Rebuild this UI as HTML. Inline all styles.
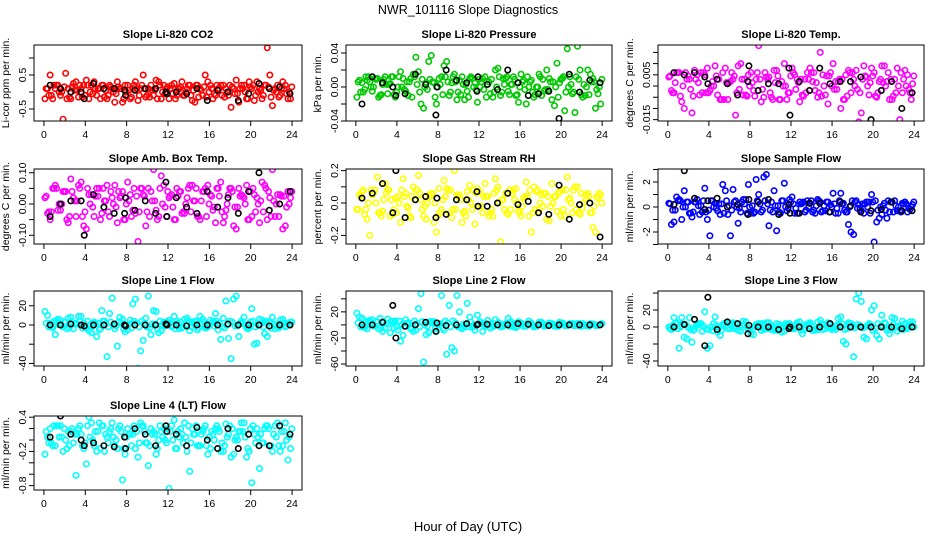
<!DOCTYPE html>
<html><head><meta charset="utf-8"><title>NWR_101116 Slope Diagnostics</title>
<style>
html,body{margin:0;padding:0;background:#fff;}
svg{display:block;font-family:"Liberation Sans",Arial,sans-serif;}
</style></head>
<body>
<svg id="chart" width="936" height="540" viewBox="0 0 936 540" xmlns="http://www.w3.org/2000/svg">
<rect width="936" height="540" fill="#fff"/>
<text x="468" y="14" text-anchor="middle" font-size="12.5">NWR_101116  Slope Diagnostics</text>
<text x="468" y="531" text-anchor="middle" font-size="13">Hour of Day (UTC)</text>
</svg>
<script>
// Hours of day for the colored point series and the black overlay series
const hoursA=[0.1,0.6,1.1,1.6,2.1,2.6,3.1,3.6,4.1,4.6,5.1,5.6,6.1,6.6,7.1,7.6,8.1,8.6,9.1,9.6,10.1,10.6,11.1,11.6,12.1,12.6,13.1,13.6,14.1,14.6,15.1,15.6,16.1,16.6,17.1,17.6,18.1,18.6,19.1,19.6,20.1,20.6,21.1,21.6,22.1,22.6,23.1,23.6];
const hoursB=[0.35,0.85,1.35,1.85,2.35,2.85,3.35,3.85,4.35,4.85,5.35,5.85,6.35,6.85,7.35,7.85,8.35,8.85,9.35,9.85,10.35,10.85,11.35,11.85,12.35,12.85,13.35,13.85,14.35,14.85,15.35,15.85,16.35,16.85,17.35,17.85,18.35,18.85,19.35,19.85,20.35,20.85,21.35,21.85,22.35,22.85,23.35,23.85];
const hoursC=[0.22,0.72,1.22,1.72,2.22,2.72,3.22,3.72,4.22,4.72,5.22,5.72,6.22,6.72,7.22,7.72,8.22,8.72,9.22,9.72,10.22,10.72,11.22,11.72,12.22,12.72,13.22,13.72,14.22,14.72,15.22,15.72,16.22,16.72,17.22,17.72,18.22,18.72,19.22,19.72,20.22,20.72,21.22,21.72,22.22,22.72,23.22,23.72];
const hoursD=[0.47,0.97,1.47,1.97,2.47,2.97,3.47,3.97,4.47,4.97,5.47,5.97,6.47,6.97,7.47,7.97,8.47,8.97,9.47,9.97,10.47,10.97,11.47,11.97,12.47,12.97,13.47,13.97,14.47,14.97,15.47,15.97,16.47,16.97,17.47,17.97,18.47,18.97,19.47,19.97,20.47,20.97,21.47,21.97,22.47,22.97,23.47,23.97];
const hoursK=[0.6,1.6,2.6,3.6,3.9,4.8,5.8,6.8,7.8,7.9,8.8,9.8,10.8,11.8,11.9,12.8,13.8,14.8,15.8,16.8,17.8,18.8,19.8,20.8,21.8,22.8,23.8];
const xTicks=[0,4,8,12,16,20,24];

const co2A=[-0.2,0.5,0.1,-0.1,0.55,-0.2,0.3,0.1,0.35,0.2,-0.1,0.2,-0.2,0.1,0.3,-0.3,0.2,0.1,-0.25,0.5,0.1,-0.1,0.3,0.2,-0.2,0.25,0.1,-0.1,0.2,-0.3,0.1,0.5,0.2,-0.1,0.2,0.1,-0.45,0.35,0.2,-0.2,0.1,0.3,-0.2,1.3,-0.4,0.2,0.3,-0.2];
const co2B=[0.1,-0.2,0.2,-0.8,0.1,0.25,-0.15,0.2,-0.2,0.3,0.1,-0.15,0.2,-0.3,0.1,0.2,-0.2,0.3,0.1,-0.15,0.2,0.35,-0.2,0.1,0.2,-0.1,0.3,0.1,-0.25,0.2,-0.1,0.3,-0.2,0.1,0.2,-0.1,0.1,-0.3,0.2,0.3,-0.25,0.1,0.2,0.5,0.1,-0.1,0.2,-0.2];
const co2C=[0.1,-0.1,0.2,0.0,-0.2,0.15,0.05,-0.15,0.2,-0.05,0.1,0.2,-0.1,0.0,0.15,-0.2,0.05,0.2,-0.1,0.1,-0.15,0.05,0.2,-0.05,0.1,-0.2,0.15,0.0,-0.1,0.2,0.05,-0.15,0.1,0.2,-0.1,0.0,0.15,-0.05,0.1,-0.2,0.2,0.0,-0.1,0.15,0.05,-0.15,0.1,0.0];
const co2D=[-0.1,0.2,0.0,0.15,-0.15,0.05,0.2,-0.1,0.0,0.1,-0.2,0.05,0.15,-0.05,0.1,0.0,-0.15,0.1,0.2,-0.1,0.05,-0.2,0.0,0.15,-0.05,0.1,-0.1,0.2,0.05,-0.15,0.15,0.0,-0.05,0.1,-0.15,0.2,-0.05,0.1,0.0,0.15,-0.1,0.05,0.2,-0.15,0.0,0.1,-0.05,0.15];
const co2K=[0.2,0.1,0.0,0.0,-0.2,0.25,0.1,0.1,0.05,-0.1,0.05,0.1,0.1,0.0,-0.05,0.0,-0.05,0.1,-0.25,0.05,0.0,-0.25,-0.05,0.25,0.1,0.15,-0.05];

const presA=[-0.012,0.005,0.008,-0.005,0.01,0.003,-0.008,0.012,0.0,0.01,-0.01,0.015,0.018,-0.025,0.03,0.005,0.01,0.025,-0.01,0.015,0.008,-0.015,0.01,0.005,0.0,0.012,-0.008,0.02,-0.01,0.01,0.003,-0.01,0.015,-0.02,0.008,0.0,-0.01,0.02,-0.015,0.028,0.01,0.045,-0.008,0.048,-0.012,0.02,0.01,-0.008];
const presB=[0.008,-0.003,0.006,0.01,-0.01,0.012,0.004,-0.012,0.018,-0.005,0.01,0.035,-0.02,0.005,0.037,-0.02,0.012,0.03,0.005,-0.015,0.012,-0.005,0.01,-0.018,0.01,0.003,-0.012,0.022,0.01,-0.005,0.012,-0.018,0.008,0.0,-0.012,0.015,-0.005,0.01,-0.022,0.005,-0.028,0.012,-0.03,0.02,-0.01,0.015,-0.025,-0.02];
const presC=[0.006,-0.006,0.012,0.0,-0.012,0.009,0.003,-0.009,0.012,-0.003,0.006,0.012,-0.006,0.0,0.009,-0.012,0.003,0.012,-0.006,0.006,-0.009,0.003,0.012,-0.003,0.006,-0.012,0.009,0.0,-0.006,0.012,0.003,-0.009,0.006,0.012,-0.006,0.0,0.009,-0.003,0.006,-0.012,0.012,0.0,-0.006,0.009,0.003,-0.009,0.006,0.0];
const presD=[-0.006,0.012,0.0,0.009,-0.009,0.003,0.012,-0.006,0.0,0.006,-0.012,0.003,0.009,-0.003,0.006,0.0,-0.009,0.006,0.012,-0.006,0.003,-0.012,0.0,0.009,-0.003,0.006,-0.006,0.012,0.003,-0.009,0.009,0.0,-0.003,0.006,-0.009,0.012,-0.003,0.006,0.0,0.009,-0.006,0.003,0.012,-0.009,0.0,0.006,-0.003,0.009];
const presK=[-0.02,0.012,0.005,0.0,-0.01,-0.008,0.015,0.003,-0.033,0.0,0.02,0.008,0.005,-0.005,0.012,0.003,-0.003,0.02,0.005,-0.01,-0.008,-0.005,-0.037,0.015,-0.006,0.008,0.005];

const tempA=[0.004,-0.003,0.006,-0.01,0.003,0.007,-0.004,0.005,-0.002,0.009,-0.006,0.008,0.002,-0.013,0.01,-0.004,0.006,0.003,-0.007,0.004,-0.005,0.007,0.002,-0.006,0.008,0.003,-0.004,0.006,0.002,-0.005,0.005,-0.008,0.01,0.002,-0.006,0.007,0.003,-0.016,0.009,-0.004,0.006,0.002,0.009,-0.006,0.003,-0.015,0.007,-0.003];
const tempB=[-0.002,0.006,-0.007,0.003,-0.012,0.005,-0.003,0.008,0.002,-0.004,0.006,-0.006,0.003,0.009,-0.004,0.005,-0.002,0.018,-0.005,0.004,0.007,-0.006,0.01,-0.003,0.005,-0.007,0.003,0.008,-0.002,0.015,-0.004,0.006,0.002,-0.01,0.005,-0.003,0.007,-0.012,0.004,0.008,-0.005,0.009,0.002,-0.006,0.008,-0.003,0.005,0.001];
const tempC=[0.0045,0.0015,-0.0045,0.006,-0.0015,0.003,0.006,-0.003,0,0.0045,-0.006,0.0015,0.006,-0.003,0.003,-0.0045,0.0015,0.006,-0.0015,0.003,-0.006,0.0045,0,-0.003,0.006,0.0015,-0.0045,0.003,0.006,-0.003,0,0.0045,-0.0015,0.003,-0.006,0.006,0,-0.003,0.0045,0.0015,-0.0045,0.003,0,0.003,-0.003,0.006,0,-0.006];
const tempD=[-0.003,0.006,0,0.0045,-0.0045,0.0015,0.006,-0.003,0,0.003,-0.006,0.0015,0.0045,-0.0015,0.003,0,-0.0045,0.003,0.006,-0.003,0.0015,-0.006,0,0.0045,-0.0015,0.003,-0.003,0.006,0.0015,-0.0045,0.0045,0,-0.0015,0.003,-0.0045,0.006,-0.0015,0.003,0,0.0045,-0.003,0.0015,0.006,-0.0045,0,0.003,-0.0015,0.0045];
const tempK=[0.006,0.005,0.006,0.004,0.001,0.003,0.001,-0.004,0.002,0.009,-0.002,0.001,0.001,0.008,-0.013,0.002,-0.002,0.008,0.001,0.002,0.002,0.004,-0.015,-0.002,0.002,-0.01,-0.003];

const ambA=[0.02,-0.05,0.06,-0.02,0.04,0.08,-0.04,0.07,-0.08,0.03,0.05,-0.03,0.06,0.02,-0.06,0.04,0.07,-0.02,-0.12,0.03,0.05,0.11,-0.04,0.06,0.02,-0.05,0.04,-0.03,0.06,0.01,-0.05,0.05,0.03,-0.06,0.07,-0.02,0.05,-0.08,0.03,0.06,-0.04,0.02,0.07,-0.05,0.11,0.03,-0.08,0.04];
const ambB=[-0.03,0.05,-0.02,0.04,-0.06,0.02,0.06,-0.07,0.03,-0.04,0.05,0.01,-0.04,0.06,0.02,-0.05,0.03,-0.03,0.05,-0.07,0.04,-0.02,0.09,-0.04,0.03,0.05,-0.03,0.02,0.06,-0.04,0.04,0.06,-0.02,0.05,-0.06,0.03,-0.07,0.05,0.02,-0.05,0.03,-0.06,0.06,0.02,-0.04,0.03,-0.07,0.02];
const ambC=[0.025,-0.025,0.05,0,-0.05,0.04,0.01,-0.04,0.05,-0.01,0.025,0.05,-0.025,0,0.04,-0.05,0.01,0.05,-0.025,0.025,-0.04,0.01,0.05,-0.01,0.025,-0.05,0.04,0,-0.025,0.05,0.01,-0.04,0.025,0.05,-0.025,0,0.04,-0.01,0.025,-0.05,0.05,0,-0.025,0.04,0.01,-0.04,0.025,0];
const ambD=[-0.025,0.05,0,0.04,-0.04,0.01,0.05,-0.025,0,0.025,-0.05,0.01,0.04,-0.01,0.025,0,-0.04,0.025,0.05,-0.025,0.01,-0.05,0,0.04,-0.01,0.025,-0.025,0.05,0.01,-0.04,0.04,0,-0.01,0.025,-0.04,0.05,-0.01,0.025,0,0.04,-0.025,0.01,0.05,-0.04,0,0.025,-0.01,0.04];
const ambK=[-0.04,0.0,0.01,0.01,-0.1,0.03,-0.01,-0.03,-0.03,0.02,-0.02,0.01,-0.03,0.07,-0.04,0.02,-0.01,-0.03,0.04,-0.01,0.02,-0.03,0.04,0.1,-0.02,0.0,0.04];

const rhA=[-0.04,0.07,-0.1,0.05,0.16,-0.05,0.08,-0.07,0.04,0.15,-0.03,0.1,0.17,-0.08,0.05,-0.12,0.09,0.14,-0.06,0.2,0.05,-0.05,0.11,-0.13,0.07,0.12,-0.06,0.15,-0.24,0.06,-0.04,0.09,-0.08,0.13,-0.18,0.07,0.05,-0.1,0.12,-0.05,0.08,0.16,-0.06,0.1,-0.03,0.06,-0.15,0.03];
const rhB=[0.05,-0.07,-0.2,0.08,-0.06,0.12,-0.08,0.03,-0.12,0.06,-0.09,0.08,0.02,-0.1,0.06,-0.18,-0.04,0.09,-0.09,0.05,-0.12,0.07,-0.04,0.09,-0.06,0.04,-0.08,0.1,0.02,-0.07,0.08,-0.05,0.03,-0.08,0.1,-0.04,0.06,-0.11,0.04,0.07,-0.08,0.03,0.1,-0.07,0.05,-0.06,-0.18,0.05];
const rhC=[-0.04,0.08,0,0.06,-0.06,0.02,0.08,-0.04,0,0.04,-0.08,0.02,0.06,-0.02,0.04,0,-0.06,0.04,0.08,-0.04,0.02,-0.08,0,0.06,-0.02,0.04,-0.04,0.08,0.02,-0.06,0.06,0,-0.02,0.04,-0.06,0.08,-0.02,0.04,0,0.06,-0.04,0.02,0.08,-0.06,0,0.04,-0.02,0.06];
const rhD=[0.04,-0.04,0.08,0,-0.08,0.06,0.02,-0.06,0.08,-0.02,0.04,0.08,-0.04,0,0.06,-0.08,0.02,0.08,-0.04,0.04,-0.06,0.02,0.08,-0.02,0.04,-0.08,0.06,0,-0.04,0.08,0.02,-0.06,0.04,0.08,-0.04,0,0.06,-0.02,0.04,-0.08,0.08,0,-0.04,0.06,0.02,-0.06,0.04,0];
const rhK=[0.03,0.06,0.12,-0.06,0.2,-0.09,0.02,0.04,-0.09,0.03,-0.07,0.02,0.02,0.07,-0.02,-0.02,0.0,0.06,-0.01,0.01,-0.06,-0.07,0.11,-0.1,-0.01,0.0,-0.21];

const sfA=[0.3,-1.2,0.6,1.3,-0.5,0.4,-0.6,1.5,-2.3,0.3,-0.6,1.3,-2.3,0.5,-0.4,0.6,-0.5,2.2,-0.4,2.6,0.4,-1.9,0.5,-0.3,0.8,-0.5,0.3,0.5,-0.4,0.6,-0.3,0.4,1.1,-0.5,0.3,-1.4,-2.2,0.2,-0.5,0.4,-2.8,-0.9,0.3,-0.4,0.5,-0.3,0.4,-0.2];
const sfB=[-1.4,0.8,-1.0,0.4,-0.8,0.6,-0.4,-1.0,0.5,-0.3,1.8,-0.6,1.4,-1.3,0.6,1.8,-0.5,1.0,2.4,-1.5,1.3,-0.4,1.9,0.6,-0.5,0.4,-0.4,0.3,-0.5,0.4,-0.3,0.2,-0.5,1.1,-0.4,-2.0,0.5,-0.3,0.4,1.0,-1.2,-0.6,-0.9,0.4,-0.3,0.3,-0.4,0.2];
const sfC=[0.25,-0.25,0.5,0,-0.5,0.4,0.1,-0.4,0.5,-0.1,0.25,0.5,-0.25,0,0.4,-0.5,0.1,0.5,-0.25,0.25,-0.4,0.1,0.5,-0.1,0.25,-0.5,0.4,0,-0.25,0.5,0.1,-0.4,0.25,0.5,-0.25,0,0.4,-0.1,0.25,-0.5,0.5,0,-0.25,0.4,0.1,-0.4,0.25,0];
const sfD=[-0.25,0.5,0,0.4,-0.4,0.1,0.5,-0.25,0,0.25,-0.5,0.1,0.4,-0.1,0.25,0,-0.4,0.25,0.5,-0.25,0.1,-0.5,0,0.4,-0.1,0.25,-0.25,0.5,0.1,-0.4,0.4,0,-0.1,0.25,-0.4,0.5,-0.1,0.25,0,0.4,-0.25,0.1,0.5,-0.4,0,0.25,-0.1,0.4];
const sfK=[0.2,2.9,0.7,-0.2,0.5,0.7,0.0,0.2,-0.6,0.6,0.4,0.6,-0.6,0.2,-0.5,-0.5,0.3,0.3,-0.4,0.4,0.1,-0.4,-0.3,-0.2,0.4,-0.3,-0.3];

const l1A=[14,2,-10,5,3,8,2,9,-3,-8,-12,15,-33,28,-22,6,-5,22,-45,-16,30,15,-8,3,5,9,-4,6,-6,4,9,-3,5,12,-15,25,-35,30,4,-3,17,-19,5,-12,8,-2,6,2];
const l1B=[10,-3,6,-2,7,-4,9,2,-6,3,-5,4,12,-4,8,-7,5,27,-27,7,-10,14,-6,3,-2,4,-3,7,3,-5,6,-2,4,-5,7,-14,27,-12,8,-3,-20,6,-9,3,-4,5,-2,3];
const l1C=[2,-2,4,0,-4,3,1,-3,4,-1,2,4,-2,0,3,-4,1,4,-2,2,-3,1,4,-1,2,-4,3,0,-2,4,1,-3,2,4,-2,0,3,-1,2,-4,4,0,-2,3,1,-3,2,0];
const l1D=[-2,4,0,3,-3,1,4,-2,0,2,-4,1,3,-1,2,0,-3,2,4,-2,1,-4,0,3,-1,2,-2,4,1,-3,3,0,-1,2,-3,4,-1,2,0,3,-2,1,4,-3,0,2,-1,3];
const l1K=[0,0,1,0,-1,0,0,1,0,-1,0,0,0,1,0,0,-1,0,0,0,1,0,0,0,-1,0,0];

const l2A=[18,10,-6,8,5,-10,9,5,-8,-16,3,-10,25,-57,-12,5,2,-8,30,-40,20,-3,12,-8,5,3,-5,8,-3,2,5,-4,3,-2,3,-2,4,-1,2,-2,3,-1,2,-1,2,-1,1,-1];
const l2B=[12,-4,7,-2,10,-5,-12,6,-25,8,-6,-8,48,-15,5,-10,45,-45,-35,45,-6,33,-4,15,-10,7,-3,4,-2,10,-3,5,-2,6,-3,4,-2,3,-2,4,-1,2,-1,2,-1,2,-1,1];
const l2C=[3,-3,6,0,-6,5,2,-5,6,-2,3,6,-3,0,5,-6,2,6,-3,3,-4,1,4,-1,2,-2,2,0,-1,2,1,-2,1,2,-1,0,2,-1,1,-2,2,0,-1,2,1,-2,1,0];
const l2D=[-3,6,0,5,-5,2,6,-3,0,3,-6,2,5,-2,3,0,-5,3,6,-3,1,-3,0,2,-1,1,-1,2,1,-2,2,0,-1,1,-2,2,-1,1,0,2,-1,1,2,-2,0,1,-1,2];
const l2K=[0,0,4,30,-20,-2,0,4,-10,3,-1,0,2,0,1,1,0,0,2,1,0,-1,0,0,0,0,0];

const l3A=[0,11,-25,-12,11,-3,4,18,-22,12,-10,5,-2,4,-5,6,-8,3,-4,5,-3,4,-6,3,-2,5,-8,3,-4,6,-3,5,-2,10,-17,5,-35,40,-12,4,25,-14,5,-8,10,-2,4,6];
const l3B=[-3,5,11,-14,-18,4,-5,-25,-4,-6,3,-2,5,-4,7,-3,-9,4,-3,5,-4,3,-5,4,-2,6,-3,5,-4,8,-2,4,-3,12,-20,4,33,30,-14,20,-10,14,-4,11,-5,7,-2,6];
const l3C=[-2,4,0,3,-3,1,4,-2,0,2,-4,1,3,-1,2,0,-3,2,4,-2,1,-4,0,3,-1,2,-2,4,1,-3,3,0,-1,2,-3,4,-1,2,0,3,-2,1,4,-3,0,2,-1,3];
const l3D=[2,-2,4,0,-4,3,1,-3,4,-1,2,4,-2,0,3,-4,1,4,-2,2,-3,1,4,-1,2,-4,3,0,-2,4,1,-3,2,4,-2,0,3,-1,2,-4,4,0,-2,3,1,-3,2,0];
const l3K=[0,3,9,-22,35,-3,6,4,-8,2,0,0,-3,-2,0,0,-2,0,4,0,0,0,0,0,0,-2,0];

const l4A=[-0.25,0.2,-0.1,0.25,0.0,0.15,-0.62,0.1,-0.42,0.3,-0.2,0.25,0.05,0.3,-0.15,-0.7,0.2,0.1,-0.3,0.25,-0.45,0.15,0.0,0.2,-0.85,0.35,0.05,0.3,-0.55,0.1,-0.1,0.25,-0.15,0.2,-0.2,0.28,-0.3,0.05,0.3,-0.3,-0.75,0.2,-0.05,0.25,-0.2,0.3,-0.1,-0.35];
const l4B=[0.05,-0.1,0.25,-0.2,0.15,-0.05,0.2,-0.15,0.4,-0.1,0.3,-0.2,0.15,-0.1,0.25,-0.25,0.1,-0.15,0.3,-0.05,0.2,-0.25,0.15,-0.05,0.25,-0.15,0.1,-0.2,0.2,-0.1,0.15,-0.25,0.1,0.2,-0.2,0.1,-0.25,0.15,0.3,-0.2,0.1,-0.5,0.2,-0.1,0.25,-0.2,0.3,-0.15];
const l4C=[0.15,-0.05,0.25,0.05,-0.15,0.2,0.1,-0.1,0.25,0.0,0.15,0.25,-0.05,0.05,0.2,-0.15,0.1,0.25,-0.05,0.15,-0.1,0.1,0.25,0.0,0.15,-0.15,0.2,0.05,-0.05,0.25,0.1,-0.1,0.15,0.25,-0.05,0.05,0.2,0.0,0.15,-0.15,0.25,0.05,-0.05,0.2,0.1,-0.1,0.15,0.05];
const l4D=[-0.05,0.25,0.05,0.2,-0.1,0.1,0.25,-0.05,0.05,0.15,-0.15,0.1,0.2,0.0,0.15,0.05,-0.1,0.15,0.25,-0.05,0.1,-0.15,0.05,0.2,0.0,0.15,-0.05,0.25,0.1,-0.1,0.2,0.05,0.0,0.15,-0.1,0.25,0.0,0.15,0.05,0.2,-0.05,0.1,0.25,-0.1,0.05,0.15,0.0,0.2];
const l4K=[0.05,0.42,0.1,0.0,-0.1,-0.05,-0.1,-0.12,0.05,-0.15,0.2,0.1,-0.1,0.25,0.15,0.1,-0.1,0.22,0.0,-0.15,0.2,-0.15,0.1,-0.1,-0.1,0.25,0.1];

// y tick values and printed labels per panel
const co2Ticks=[-0.5,0,0.5,1.0], co2Labels=["-0.5",null,"0.5",null];
const presTicks=[-0.04,-0.02,0,0.02,0.04], presLabels=["-0.04",null,"0.00",null,"0.04"];
const tempTicks=[-0.015,-0.01,-0.005,0,0.005,0.01,0.015], tempLabels=["-0.015",null,null,null,"0.005",null,null];
const ambTicks=[-0.1,-0.05,0,0.05,0.1], ambLabels=["-0.10",null,"0.00",null,"0.10"];
const rhTicks=[-0.2,-0.1,0,0.1,0.2], rhLabels=["-0.2",null,"0.0",null,"0.2"];
const sfTicks=[-3,-2,-1,0,1,2,3], sfLabels=[null,"-2",null,"0",null,"2",null];
const l1Ticks=[-40,-20,0,20], l1Labels=["-40",null,"0","20"];
const l2Ticks=[-60,-40,-20,0,20,40], l2Labels=["-60",null,"-20",null,"20",null];
const l3Ticks=[-40,-20,0,20,40], l3Labels=["-40",null,"0","20",null];
const l4Ticks=[-0.8,-0.6,-0.4,-0.2,0,0.2,0.4], l4Labels=["-0.8",null,null,"-0.2",null,null,"0.4"];

const NS="http://www.w3.org/2000/svg";
const svg=document.getElementById('chart');
const cols=[[34,302],[346,612],[658,924]];
const rows=[[45,121],[169,244],[291,366],[416,490]];
const XMIN=-0.96, XMAX=24.96;

const panels=[
 {key:'co2',title:'Slope Li-820 CO2',ylab:'Li-cor ppm per min.',color:'#ff0000',c:0,r:0,ylim:[-0.853,1.382],S:[co2A,co2B,co2C,co2D],K:co2K,ticks:co2Ticks,labels:co2Labels},
 {key:'pressure',title:'Slope Li-820 Pressure',ylab:'kPa per min.',color:'#00c800',c:1,r:0,ylim:[-0.04,0.0494],S:[presA,presB,presC,presD],K:presK,ticks:presTicks,labels:presLabels},
 {key:'temp',title:'Slope Li-820 Temp.',ylab:'degrees C per min.',color:'#ff00ff',c:2,r:0,ylim:[-0.0156,0.0183],S:[tempA,tempB,tempC,tempD],K:tempK,ticks:tempTicks,labels:tempLabels},
 {key:'amb-box',title:'Slope Amb. Box Temp.',ylab:'degrees C per min.',color:'#ff00ff',c:0,r:1,ylim:[-0.128,0.112],S:[ambA,ambB,ambC,ambD],K:ambK,ticks:ambTicks,labels:ambLabels},
 {key:'rh',title:'Slope Gas Stream RH',ylab:'percent per min.',color:'#ffff00',c:1,r:1,ylim:[-0.253,0.21],S:[rhA,rhB,rhC,rhD],K:rhK,ticks:rhTicks,labels:rhLabels},
 {key:'sample-flow',title:'Slope Sample Flow',ylab:'ml/min per min.',color:'#0000ff',c:2,r:1,ylim:[-2.96,3.04],S:[sfA,sfB,sfC,sfD],K:sfK,ticks:sfTicks,labels:sfLabels},
 {key:'line1',title:'Slope Line 1 Flow',ylab:'ml/min per min.',color:'#00ffff',c:0,r:2,ylim:[-42.7,35.4],S:[l1A,l1B,l1C,l1D],K:l1K,ticks:l1Ticks,labels:l1Labels},
 {key:'line2',title:'Slope Line 2 Flow',ylab:'ml/min per min.',color:'#00ffff',c:1,r:2,ylim:[-63,52],S:[l2A,l2B,l2C,l2D],K:l2K,ticks:l2Ticks,labels:l2Labels},
 {key:'line3',title:'Slope Line 3 Flow',ylab:'ml/min per min.',color:'#00ffff',c:2,r:2,ylim:[-45.9,42.4],S:[l3A,l3B,l3C,l3D],K:l3K,ticks:l3Ticks,labels:l3Labels},
 {key:'line4',title:'Slope Line 4 (LT) Flow',ylab:'ml/min per min.',color:'#00ffff',c:0,r:3,ylim:[-0.877,0.421],S:[l4A,l4B,l4C,l4D],K:l4K,ticks:l4Ticks,labels:l4Labels}
];
const seriesHours=[hoursA,hoursB,hoursC,hoursD];

function mk(tag,attrs,parent){const e=document.createElementNS(NS,tag);for(const k in attrs)e.setAttribute(k,attrs[k]);(parent||svg).appendChild(e);return e;}

panels.forEach((p,pi)=>{
  const [L,R]=cols[p.c],[T,B]=rows[p.r];
  const xs=v=>L+(v-XMIN)/(XMAX-XMIN)*(R-L);
  const ys=v=>B-(v-p.ylim[0])/(p.ylim[1]-p.ylim[0])*(B-T);
  const g=mk('g',{});
  
  
  const cp=mk('clipPath',{id:'clip'+pi},g);
  mk('rect',{x:L,y:T,width:R-L,height:B-T},cp);
  const t=mk('text',{x:(L+R)/2,y:T-7,'text-anchor':'middle','font-size':'11','font-weight':'bold'},g);
  t.textContent=p.title;
  
  
  const yl=mk('text',{transform:`translate(${L-25},${(T+B)/2}) rotate(-90)`,'text-anchor':'middle','font-size':'10.5'},g);
  yl.textContent=p.ylab;
  
  
  const xa=mk('g',{},g);
  
  
  mk('line',{x1:xs(xTicks[0]),x2:xs(xTicks[xTicks.length-1]),y1:B,y2:B,stroke:'#000'},xa);
  xTicks.forEach(v=>{
    mk('line',{x1:xs(v),x2:xs(v),y1:B,y2:B+5,stroke:'#000'},xa);
    const tl=mk('text',{x:xs(v),y:B+17,'text-anchor':'middle','font-size':'10.5'},xa);
    tl.textContent=String(v);
    
    
  });
  const ya=mk('g',{},g);
  
  
  mk('line',{x1:L,x2:L,y1:ys(p.ticks[0]),y2:ys(p.ticks[p.ticks.length-1]),stroke:'#000'},ya);
  p.ticks.forEach((v,i)=>{
    mk('line',{x1:L-5,x2:L,y1:ys(v),y2:ys(v),stroke:'#000'},ya);
    if(p.labels[i]){
      const tl=mk('text',{transform:`translate(${L-8},${ys(v)}) rotate(-90)`,'text-anchor':'middle','font-size':'10.5'},ya);
      tl.textContent=p.labels[i];
      
      
    }
  });
  const pts=mk('g',{'clip-path':`url(#clip${pi})`,fill:'none','stroke-width':'1.6'},g);
  
  
  p.S.forEach((vs,si)=>{
    const hs=seriesHours[si];
    vs.forEach((v,i)=>{
      const c=mk('circle',{cx:xs(hs[i]),cy:ys(v),r:2.7,stroke:p.color},pts);
      
      
    });
  });
  p.K.forEach((v,i)=>{
    const c=mk('circle',{cx:xs(hoursK[i]),cy:ys(v),r:2.7,stroke:'#000'},pts);
    
    
  });
  const box=mk('rect',{x:L,y:T,width:R-L,height:B-T,fill:'none',stroke:'#000'},g);
  
  
});
</script>
</body></html>
